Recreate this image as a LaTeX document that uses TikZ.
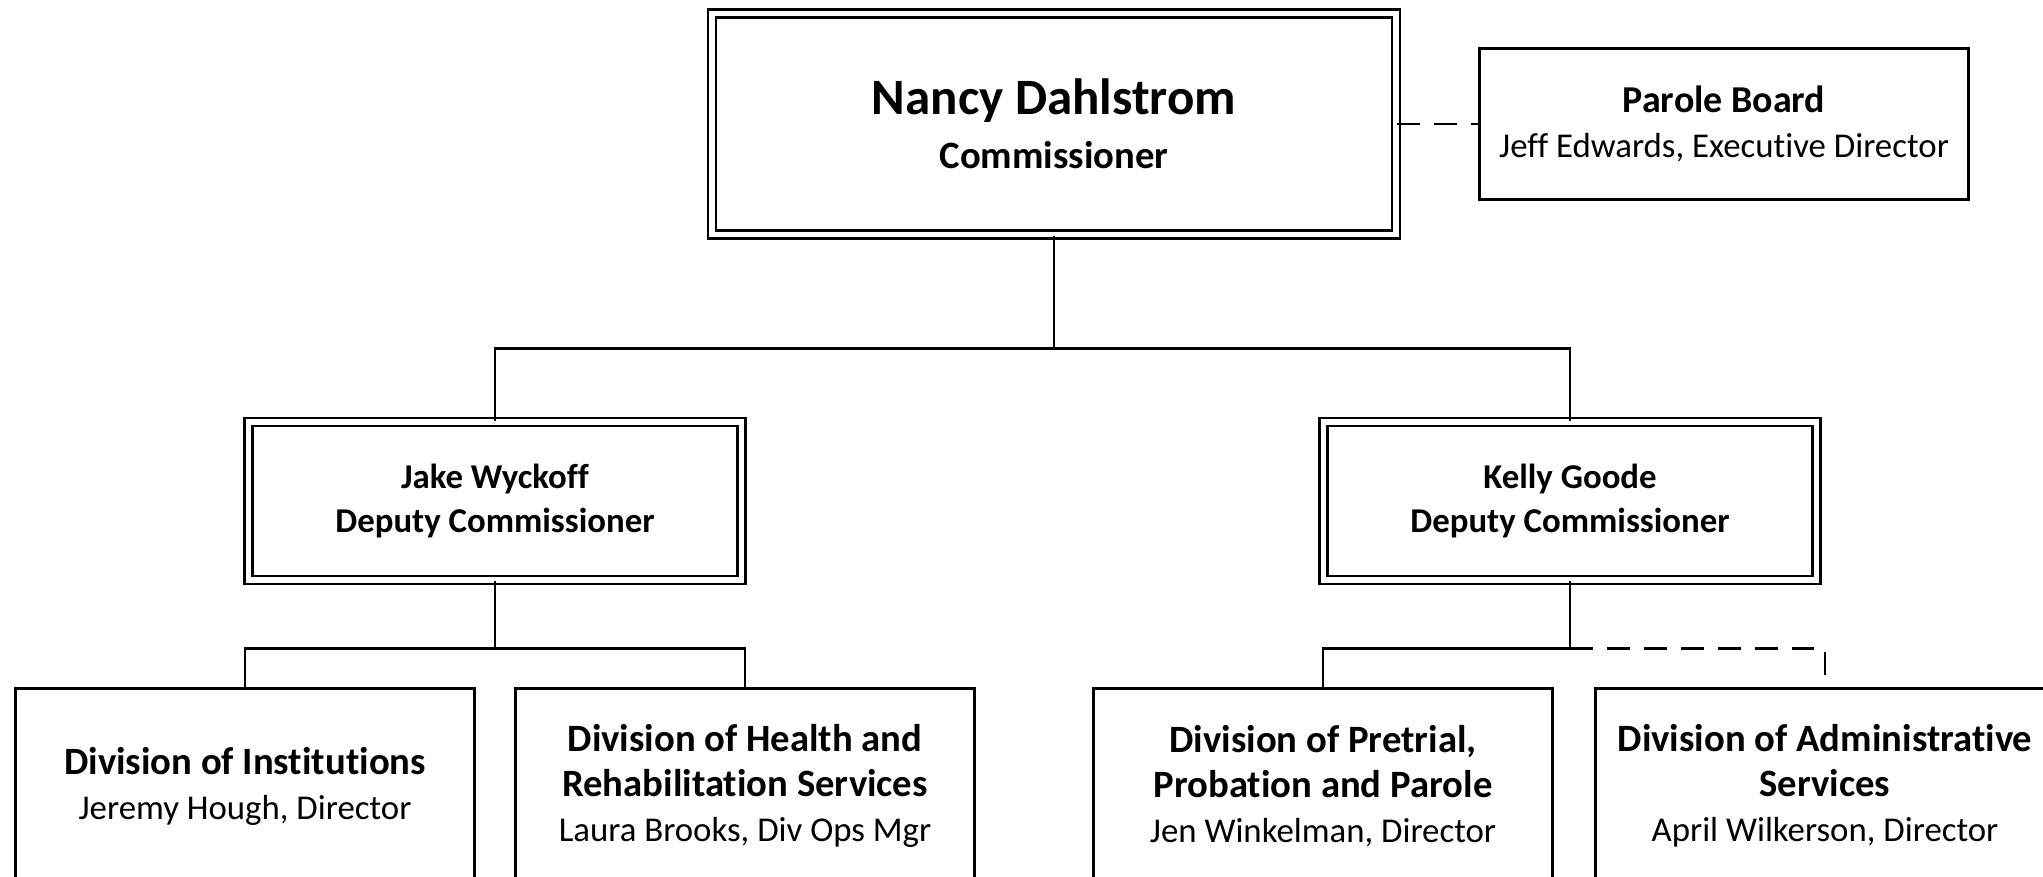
\documentclass[tikz,border=0pt]{standalone}
\usepackage{fontspec}
\setmainfont{Carlito}[Ligatures=NoCommon]
\usepackage{tikz}

\begin{document}
\begin{tikzpicture}[x=0.01cm,y=-0.01cm,line width=0.8pt,
        box/.style={draw,align=center,inner sep=0pt},
        dbox/.style={box,double,double distance=1.6pt,line width=0.7pt},
        divbox/.style={box,minimum width=4.59cm,minimum height=1.95cm,
            font=\fontsize{9.9}{12.8}\selectfont},
        dashline/.style={dash pattern=on 6.5pt off 4pt}]
    \useasboundingbox (0,0) rectangle (2043,877);
    \clip (0,0) rectangle (2043,877);

    % commissioner and parole board
    \node[dbox,minimum width=6.84cm,minimum height=2.21cm,
        font=\fontsize{11}{15.5}\selectfont] (comm) at (1054,124)
        {{\fontsize{14.5}{15.5}\selectfont\bfseries Nancy Dahlstrom}\\\textbf{Commissioner}};
    \node[box,minimum width=4.89cm,minimum height=1.51cm,
        font=\fontsize{9.9}{13}\selectfont] (parole) at (1724,124)
        {{\fontsize{10.8}{13}\selectfont\bfseries Parole Board}\\Jeff Edwards, Executive Director};
    \draw[dashline] (comm.east) -- (parole.west);

    % deputies
    \node[dbox,minimum width=4.93cm,minimum height=1.58cm,
        font=\fontsize{9.9}{12.5}\selectfont\bfseries] (jake) at (495,501)
        {Jake Wyckoff\\Deputy Commissioner};
    \node[dbox,minimum width=4.93cm,minimum height=1.58cm,
        font=\fontsize{9.9}{12.5}\selectfont\bfseries] (kelly) at (1570,501)
        {Kelly Goode\\Deputy Commissioner};
    \draw (comm.south) -- ++(0,113) coordinate (topbus);
    \draw (jake.north) |- (topbus) -| (kelly.north);

    % divisions
    \node[divbox] (inst) at (245,786)
        {{\fontsize{11}{12.8}\selectfont\bfseries Division of Institutions}\\Jeremy Hough, Director};
    \node[divbox] (health) at (745,786)
        {{\fontsize{11}{12.8}\selectfont\bfseries Division of Health and}\\
         {\fontsize{11}{12.8}\selectfont\bfseries Rehabilitation Services}\\Laura Brooks, Div Ops Mgr};
    \node[divbox] (pretrial) at (1323,786)
        {{\fontsize{11}{12.8}\selectfont\bfseries Division of Pretrial,}\\
         {\fontsize{11}{12.8}\selectfont\bfseries Probation and Parole}\\Jen Winkelman, Director};
    \node[divbox] (admin) at (1825,786)
        {{\fontsize{11}{12.8}\selectfont\bfseries Division of Administrative}\\
         {\fontsize{11}{12.8}\selectfont\bfseries Services}\\April Wilkerson, Director};

    \draw (jake.south) -- ++(0,67) coordinate (jbus);
    \draw (inst.north) |- (jbus) -| (health.north);
    \draw (kelly.south) -- ++(0,67) coordinate (kbus) -| (pretrial.north);
    \draw[dashline] (kbus) -| (admin.north);
\end{tikzpicture}
\end{document}
